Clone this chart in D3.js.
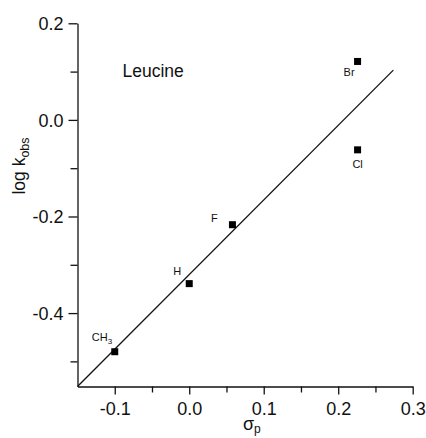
<!DOCTYPE html>
<html>
<head>
<meta charset="utf-8">
<script src="https://cdn.jsdelivr.net/npm/d3@7/dist/d3.min.js"></script>
<style>
  html, body { margin: 0; padding: 0; background: #fff; }
  svg { display: block; font-family: "Liberation Sans", Arial, Helvetica, sans-serif; }
</style>
</head>
<body>
<svg id="chart" width="426" height="438"></svg>
<script>
// ---- data ----
const substituents = ["CH3", "H", "F", "Br", "Cl"];
const sigmaP = [-0.10, 0.00, 0.058, 0.226, 0.226];
const logKobs = [-0.480, -0.339, -0.217, 0.121, -0.062];
const fitX = [-0.15, 0.274];
const fitY = [-0.552, 0.103];
const xTicks = [-0.1, 0.0, 0.1, 0.2, 0.3];
const xMinorTicks = [-0.05, 0.05, 0.15, 0.25];
const yTicks = [-0.4, -0.2, 0.0, 0.2];
const yMinorTicks = [-0.5, -0.3, -0.1, 0.1];
const title = "Leucine";

// ---- layout ----
const svg = d3.select("#chart");
const x = d3.scaleLinear().domain([-0.15, 0.3]).range([77.5, 412.7]);
const y = d3.scaleLinear().domain([-0.552, 0.2]).range([386.5, 23.3]);
const ink = "#111";
const fmt = d => d.toFixed(1);

// axes
const xAxis = d3.axisBottom(x).tickValues(xTicks).tickFormat(fmt).tickSize(8).tickSizeOuter(0).tickPadding(5);
const xMinor = d3.axisBottom(x).tickValues(xMinorTicks).tickFormat("").tickSize(6).tickSizeOuter(0);
const yAxis = d3.axisLeft(y).tickValues(yTicks).tickFormat(fmt).tickSize(9).tickSizeOuter(0).tickPadding(5);
const yMinor = d3.axisLeft(y).tickValues(yMinorTicks).tickFormat("").tickSize(7).tickSizeOuter(0);

function style(g) {
  g.selectAll("path").attr("stroke", ink).attr("stroke-width", 1.3);
  g.selectAll("line").attr("stroke", ink).attr("stroke-width", 1.3);
  g.selectAll("text").attr("fill", ink).attr("font-size", 18)
    .attr("font-family", '"Liberation Sans", Arial, sans-serif');
}

const gx = svg.append("g").attr("transform", `translate(0,${y(-0.552)})`).call(xAxis).call(style);
svg.append("g").attr("transform", `translate(0,${y(-0.552)})`).call(xMinor).call(style).select("path").remove();
const gy = svg.append("g").attr("transform", `translate(${x(-0.15)},0)`).call(yAxis).call(style);
svg.append("g").attr("transform", `translate(${x(-0.15)},0)`).call(yMinor).call(style).select("path").remove();
gx.selectAll(".tick text").attr("dy", "0.85em");
gy.selectAll(".tick text").attr("dy", "0.36em");

// fit line
svg.append("path")
  .datum(fitX.map((d, i) => [d, fitY[i]]))
  .attr("d", d3.line().x(d => x(d[0])).y(d => y(d[1])))
  .attr("fill", "none").attr("stroke", ink).attr("stroke-width", 1.3);

// points
const pts = substituents.map((s, i) => ({ name: s, sx: sigmaP[i], ly: logKobs[i] }));
const sq = 7;
svg.selectAll("rect.pt").data(pts).enter().append("rect")
  .attr("class", "pt")
  .attr("x", d => x(d.sx) - sq / 2).attr("y", d => y(d.ly) - sq / 2)
  .attr("width", sq).attr("height", sq).attr("fill", "#000");

// point labels (pixel offsets from marker)
const labelOffset = {
  CH3: { dx: -23, dy: -11, anchor: "start" },
  H:   { dx: -12, dy: -9,  anchor: "middle" },
  F:   { dx: -18, dy: -3,  anchor: "middle" },
  Br:  { dx: -8.5, dy: 15, anchor: "middle" },
  Cl:  { dx: 0,   dy: 18,  anchor: "middle" }
};
pts.forEach(d => {
  const o = labelOffset[d.name];
  const t = svg.append("text")
    .attr("x", x(d.sx) + o.dx).attr("y", y(d.ly) + o.dy)
    .attr("text-anchor", o.anchor).attr("font-size", 11).attr("fill", ink);
  const m = d.name.match(/^([A-Za-z]+)(\d*)$/);
  t.append("tspan").text(m[1]);
  if (m[2]) t.append("tspan").attr("font-size", 8).attr("dy", 3).text(m[2]);
});

// title
svg.append("text").attr("x", 122.5).attr("y", 76.7)
  .attr("font-size", 17.5).attr("fill", ink).text(title);

// x axis title: sigma_p
const xt = svg.append("text").attr("x", 243).attr("y", 430)
  .attr("font-size", 18).attr("fill", ink);
xt.append("tspan").text("σ");
xt.append("tspan").attr("font-size", 12).attr("dy", 2.5).text("p");

// y axis title: log k_obs
const yt = svg.append("text")
  .attr("transform", "translate(25,166) rotate(-90)")
  .attr("text-anchor", "middle").attr("font-size", 17.5).attr("fill", ink);
yt.append("tspan").text("log k");
yt.append("tspan").attr("font-size", 12.5).attr("dy", 4).text("obs");
</script>
</body>
</html>
